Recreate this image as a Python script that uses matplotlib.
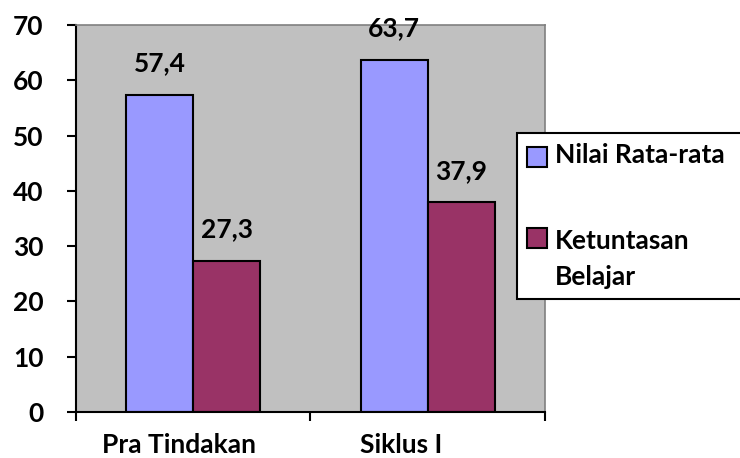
import matplotlib
matplotlib.use('Agg')
import matplotlib.pyplot as plt
import matplotlib.transforms as mtransforms
from matplotlib.patches import Rectangle
import numpy as np

plt.rcParams['font.family'] = ['Lato', 'DejaVu Sans']
plt.rcParams['font.weight'] = 'bold'

categories = ['Pra Tindakan', 'Siklus I']
series_names = ['Nilai Rata-rata', 'Ketuntasan\nBelajar']
nilai_rata = [57.4, 63.7]
ketuntasan = [27.3, 37.9]
colors = ['#9999FF', '#993366']
FS = 19

fig = plt.figure(figsize=(7.4, 4.58), dpi=100)
ax = fig.add_axes([76 / 740, 1 - 412 / 458, (545 - 76) / 740, (412 - 25) / 458])
ax.set_facecolor('#C0C0C0')

x = np.arange(len(categories)) + 0.5
w = 67 / 234.5
for vals, off, col in [(nilai_rata, -w / 2, colors[0]), (ketuntasan, w / 2, colors[1])]:
    bars = ax.bar(x + off, vals, width=w, color=col, edgecolor='black', linewidth=1.5)
    for b, v in zip(bars, vals):
        ax.annotate(f'{v:.1f}'.replace('.', ','), (b.get_x() + b.get_width() / 2, v),
                    xytext=(0, 14), textcoords='offset points', ha='center', va='bottom',
                    fontsize=FS, fontweight='bold')

ax.set_xlim(0, len(categories))
ax.set_ylim(0, 70)
ax.set_yticks(range(0, 71, 10))
ax.tick_params(axis='y', direction='out', length=6.5, width=1.5, pad=17, labelsize=FS)

# category boundaries as ticks, labels in the middle
ax.set_xticks(np.arange(len(categories) + 1), minor=True)
ax.set_xticks(x)
ax.set_xticklabels(categories, fontsize=FS, fontweight='bold')
ax.tick_params(axis='x', which='major', length=0, pad=15)
ax.tick_params(axis='x', which='minor', direction='out', length=6.5, width=1.5)
shifts = [-14, -27]
for lbl, s in zip(ax.get_xticklabels(), shifts):
    lbl.set_transform(lbl.get_transform() + mtransforms.ScaledTranslation(s / 100, 0, fig.dpi_scale_trans))

for side in ['left', 'bottom']:
    ax.spines[side].set_color('black')
    ax.spines[side].set_linewidth(1.5)
for side in ['top', 'right']:
    ax.spines[side].set_color('#808080')
    ax.spines[side].set_linewidth(1.2)

# legend drawn by hand
W, H = 740, 458
fig.patches.append(Rectangle((517 / W, 1 - 299 / H), 240 / W, 166 / H, transform=fig.transFigure,
                             facecolor='white', edgecolor='black', linewidth=1.5, zorder=5))
patch_tops = [147, 228]
text_tops = [143, 229]
for name, col, top, ttop in zip(series_names, colors, patch_tops, text_tops):
    fig.patches.append(Rectangle((527 / W, 1 - (top + 20) / H), 20 / W, 20 / H, transform=fig.transFigure,
                                 facecolor=col, edgecolor='black', linewidth=1.5, zorder=6))
    fig.text(555 / W, 1 - ttop / H, name, ha='left', va='top', fontsize=FS, fontweight='bold',
             linespacing=1.62, zorder=7)

fig.savefig('out.png', dpi=100)
